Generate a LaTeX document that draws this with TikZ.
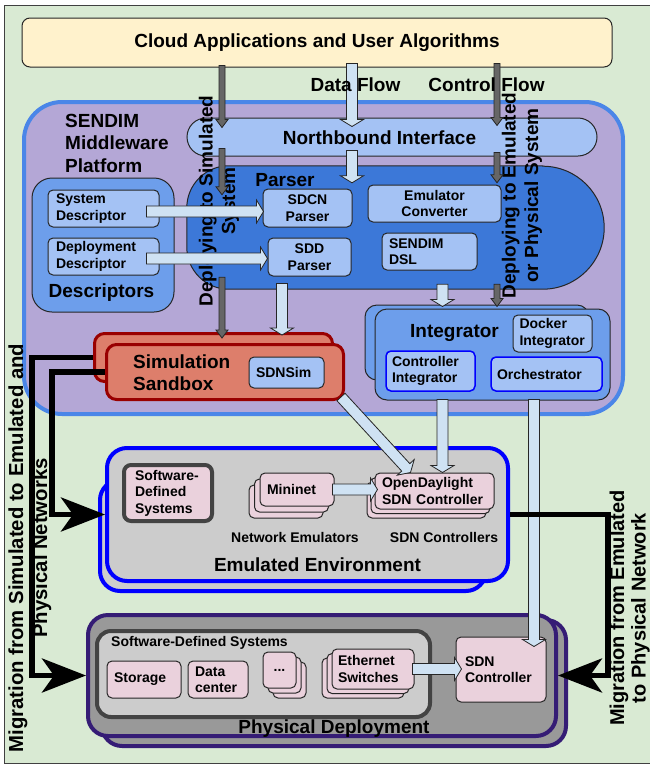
\documentclass[tikz,border=0pt]{standalone}
\usepackage{fontspec}
\setmainfont{Liberation Sans}
\usetikzlibrary{positioning, calc, arrows.meta, shadows}

\definecolor{bggreen}{HTML}{D9EAD3}
\definecolor{cloudyellow}{HTML}{FFF2CC}
\definecolor{platpurple}{HTML}{B4A7D6}
\definecolor{platblue}{HTML}{4A86E8}
\definecolor{lightblue}{HTML}{A4C2F4}
\definecolor{midblue}{HTML}{6D9EEB}
\definecolor{parserblue}{HTML}{3C78D8}
\definecolor{sandred}{HTML}{DD7E6B}
\definecolor{sandborder}{HTML}{990000}
\definecolor{emugray}{HTML}{CCCCCC}
\definecolor{physgray}{HTML}{999999}
\definecolor{physborder}{HTML}{351C75}
\definecolor{sdsborder}{HTML}{434343}
\definecolor{boxpink}{HTML}{EAD1DC}
\definecolor{arrlight}{HTML}{CFE2F3}
\definecolor{arrdark}{HTML}{666666}

\newcommand{\bigf}{\fontsize{19}{22.5}\selectfont\bfseries}
\newcommand{\smallf}{\fontsize{14}{16.5}\selectfont\bfseries}
\newcommand{\migf}{\fontsize{20.3}{24}\selectfont\bfseries}
\newcommand{\migrf}{\fontsize{20}{21.5}\selectfont\bfseries}

% block arrow from #2 to #3
\def\aw{5.5pt}\def\aW{11.5pt}\def\ah{7pt}
\newcommand{\fatarrow}[3][]{%
  \filldraw[#1] let \p1=(#2), \p2=(#3),
    \n1={veclen(\x2-\x1,\y2-\y1)}, \n2={(\x2-\x1)/\n1}, \n3={(\y2-\y1)/\n1} in
    ({\x1-\aw*(\n3)},{\y1+\aw*(\n2)}) --
    ({\x2-\ah*(\n2)-\aw*(\n3)},{\y2-\ah*(\n3)+\aw*(\n2)}) --
    ({\x2-\ah*(\n2)-\aW*(\n3)},{\y2-\ah*(\n3)+\aW*(\n2)}) --
    (\p2) --
    ({\x2-\ah*(\n2)+\aW*(\n3)},{\y2-\ah*(\n3)-\aW*(\n2)}) --
    ({\x2-\ah*(\n2)+\aw*(\n3)},{\y2-\ah*(\n3)-\aw*(\n2)}) --
    ({\x1+\aw*(\n3)},{\y1-\aw*(\n2)}) -- cycle;}

\begin{document}
\begin{tikzpicture}[x=1pt, y=-1pt,
  box/.style={draw=black!85, line width=1pt, rounded corners=5pt, inner sep=0pt},
  lbox/.style={box, fill=lightblue, font=\smallf, align=left, inner xsep=7pt},
  pbox/.style={box, fill=boxpink, font=\smallf, align=left, inner xsep=7pt},
  sandbox/.style={draw=sandborder, line width=3pt, fill=sandred, rounded corners=10pt, inner sep=0pt},
  integbox/.style={box, fill=midblue, rounded corners=12pt},
  emubox/.style={draw=blue, line width=4pt, fill=emugray, rounded corners=20pt, inner sep=0pt},
  physbox/.style={draw=physborder, line width=4pt, fill=physgray, rounded corners=20pt, inner sep=0pt},
  stack/.style 2 args={copy shadow={shadow xshift=#1, shadow yshift=#2, fill=boxpink, draw=black!85, line width=1pt}},
  lightarr/.style={fill=arrlight, draw=black!85, line width=0.8pt, /utils/exec={\def\aw{5.5pt}\def\aW{11.5pt}\def\ah{7pt}}},
  darkarr/.style={fill=arrdark, draw=black!85, line width=0.8pt, /utils/exec={\def\aw{3pt}\def\aW{6pt}\def\ah{8pt}}},
  migarr/.style={line width=5.5pt, -{Stealth[length=44pt, width=34pt, inset=12pt]}}
]
  \useasboundingbox (0,0) rectangle (650,766);
  \draw[fill=bggreen, draw=black!75, line width=1pt] (4.5,5.5) rectangle (662,763);

  % columns of the flows
  \coordinate (csim) at (222,0);
  \coordinate (cdat) at (352,0);
  \coordinate (cctl) at (497,0);
  \coordinate (csdd) at (282,0);
  \coordinate (cint) at (442.5,0);
  \coordinate (corc) at (534,0);

  % applications
  \node[box, fill=cloudyellow, rounded corners=8pt, minimum width=590pt, minimum height=49pt, font=\bigf] (cloud) at (317,42.5) {Cloud Applications and User Algorithms};

  % middleware platform
  \node[draw=platblue, line width=4pt, fill=platpurple, rounded corners=38pt, minimum width=599pt, minimum height=312pt, inner sep=0pt] (plat) at (323.5,258) {};
  \node[font=\bigf, align=left, anchor=west, inner sep=0pt] (platlbl) at (65,143) {SENDIM\\Middleware\\Platform};

  \node[box, fill=lightblue, rounded corners=19pt, minimum width=410pt, minimum height=38pt] (nbi) at (392,137) {};
  \node[font=\bigf] (nbilbl) at (379.5,138) {Northbound Interface};

  % parser
  \node[minimum width=417pt, minimum height=123pt, inner sep=0pt] (parser) at (395.5,227.5) {};
  \draw[line width=1pt, draw=black!85, fill=parserblue] ($(parser.north east)+(-61.5,0)$) -- ($(parser.north west)+(42,0)$)
    arc[start angle=-90, end angle=-180, radius=42] -- ($(parser.south west)+(0,-42)$)
    arc[start angle=180, end angle=90, radius=42] -- ($(parser.south east)+(-61.5,0)$)
    arc[start angle=90, end angle=-90, radius=61.5] -- cycle;
  \node[font=\bigf] (parserlbl) at (285,180) {Parser};
  \node[lbox, align=center, text width=75pt, minimum height=38pt] (sdcn) at (307.5,208) {SDCN\\Parser};
  \node[lbox, align=center, text width=69pt, minimum height=38pt] (sdd) at (309.5,257) {SDD\\Parser};
  \node[lbox, align=center, text width=119pt, minimum height=37pt] (emuconv) at (434.5,203.5) {Emulator\\Converter};
  \node[lbox, text width=81pt, minimum height=37pt] (dsl) at (429.5,251.5) {SENDIM\\DSL};

  % descriptors
  \node[box, fill=midblue, rounded corners=20pt, minimum width=142pt, minimum height=134pt] (desc) at (103,245) {};
  \node[lbox, text width=95pt, minimum height=37pt, inner xsep=8pt] (sysdesc) at (103.5,208.5) {System\\Descriptor};
  \node[lbox, text width=95pt, minimum height=37pt, inner xsep=8pt] (depdesc) at (103.5,256.5) {Deployment\\Descriptor};
  \node[font=\bigf] (desclbl) at (101.5,293) {Descriptors};

  % simulation sandbox
  \node[sandbox, minimum width=238pt, minimum height=48pt] (sandback) at (213.5,357.5) {};
  \node[sandbox, minimum width=237pt, minimum height=55pt] (sand) at (225,372) {};
  \node[font=\bigf, align=left, anchor=west, inner sep=0pt] (sandlbl) at (133,372.5) {Simulation\\Sandbox};
  \node[lbox, text width=61pt, minimum height=31pt] (sdnsim) at (286.5,372.5) {SDNSim};

  % integrator
  \node[integbox, minimum width=224pt, minimum height=75pt] (integback) at (477,342.5) {};
  \node[integbox, minimum width=235pt, minimum height=91pt] (integ) at (492.5,354.5) {};
  \node[font=\bigf] (integlbl) at (454.5,333) {Integrator};
  \node[lbox, text width=66pt, minimum height=37pt, inner xsep=6.5pt] (docker) at (552.5,333.5) {Docker\\Integrator};
  \node[lbox, draw=blue, line width=1.5pt, text width=77pt, minimum height=40pt, inner xsep=6pt] (ctrlint) at (430.5,371) {Controller\\Integrator};
  \node[lbox, draw=blue, line width=1.5pt, text width=99pt, minimum height=34pt, inner xsep=6pt] (orch) at (546.5,374) {Orchestrator};

  % emulated environment
  \node[emubox, minimum width=386pt, minimum height=111pt] (emuback) at (293,535.5) {};
  \node[emubox, minimum width=401pt, minimum height=133pt] (emu) at (307.5,514.5) {};
  \node[font=\bigf] (emulbl) at (317.5,565) {Emulated Environment};
  \node[pbox, draw=sdsborder, line width=4pt, rounded corners=7pt, text width=66pt, minimum height=56pt, inner xsep=11pt] (sdsemu) at (168,493) {Software-\\Defined\\Systems};
  \node[pbox, text width=60pt, minimum height=33pt, stack={-11pt}{-12pt}, stack={-5.5pt}{-6pt}] (mininet) at (297,489.5) {Mininet};
  \node[pbox, text width=105pt, minimum height=36pt, stack={-8pt}{-9pt}, stack={-4pt}{-4.5pt}] (odl) at (434.5,491) {OpenDaylight\\SDN Controller};
  \node[font=\smallf] (netemulbl) at (295,537) {Network Emulators};
  \node[font=\smallf] (sdnctrllbl) at (444,537) {SDN Controllers};

  % physical deployment
  \node[physbox, minimum width=464pt, minimum height=126pt] (physback) at (334,683) {};
  \node[physbox, minimum width=468pt, minimum height=121pt] (phys) at (322,675.5) {};
  \node[box, draw=sdsborder, line width=4pt, fill=emugray, rounded corners=14pt, minimum width=333pt, minimum height=86pt] (sdsphys) at (263.5,674) {};
  \node[font=\bigf] (physlbl) at (334,728.5) {Physical Deployment};
  \node[font=\smallf, anchor=west, inner sep=0pt] (sdsphyslbl) at (111,643) {Software-Defined Systems};
  \node[pbox, text width=60pt, minimum height=37pt] (storage) at (144,679.5) {Storage};
  \node[pbox, text width=46pt, minimum height=37pt] (dc) at (218,679.5) {Data\\center};
  \node[pbox, align=center, text width=19pt, minimum height=36pt, stack={10pt}{-10pt}, stack={5pt}{-5pt}] (dots) at (279.5,670) {...};
  \node[pbox, text width=70pt, minimum height=40pt, inner xsep=6pt, stack={-10pt}{-9pt}, stack={-5pt}{-4.5pt}] (eth) at (373,669) {Ethernet\\Switches};
  \node[pbox, text width=72pt, minimum height=65pt, inner xsep=9pt] (sdnc) at (501,669.5) {SDN\\Controller};

  % deploying labels
  \node[font=\bigf, rotate=90, align=center] (deploysim) at (219,201) {Deploying to Simulated\\System};
  \node[font=\bigf, rotate=90, align=center] (deployemu) at (522,195.5) {Deploying to Emulated\\or Physical System};

  % data and control flow
  \fatarrow[darkarr]{$(cloud.south -| csim)+(0,-2)$}{$(nbi.north -| csim)+(0,10)$}
  \fatarrow[lightarr]{$(cloud.south -| cdat)+(0,-4)$}{$(nbi.north -| cdat)+(0,9)$}
  \fatarrow[darkarr]{$(cloud.south -| cctl)+(0,-4)$}{$(nbi.north -| cctl)+(0,8)$}
  \fatarrow[darkarr]{$(nbi.south -| csim)+(0,-8)$}{$(parser.north -| csim)+(0,29)$}
  \fatarrow[lightarr]{$(nbi.south -| cdat)+(0,-6)$}{$(parser.north -| cdat)+(0,17)$}
  \fatarrow[darkarr]{$(nbi.south -| cctl)+(0,-4)$}{$(parser.north -| cctl)+(0,17)$}
  \fatarrow[darkarr]{$(parser.south -| csim)+(0,-12)$}{$(sandback.north -| csim)+(0,6)$}
  \fatarrow[lightarr]{$(sdd.south -| csdd)+(0,7)$}{$(sandback.north -| csdd)+(0,3)$}
  \fatarrow[lightarr]{$(parser.south -| cint)+(0,-5)$}{$(integback.north -| cint)+(0,2)$}
  \fatarrow[darkarr]{$(parser.south -| cctl)+(0,-5)$}{$(integback.north -| cctl)+(0,2)$}
  \fatarrow[lightarr]{$(integ.south -| cint)+(0,-1)$}{$(odl.north -| cint)$}
  \fatarrow[lightarr]{$(sand.south east)+(-4,-4)$}{$(odl.north west)+(36,0)$}
  \fatarrow[lightarr]{$(integ.south -| corc)+(0,-1)$}{$(sdnc.north -| corc)+(0,10)$}
  \fatarrow[lightarr]{$(mininet.east)+(-2,0)$}{$(mininet.east -| odl.west)+(3,0)$}
  \fatarrow[lightarr]{$(eth.east)+(-2,0)$}{$(eth.east -| sdnc.west)+(6,0)$}
  \fatarrow[lightarr]{$(sysdesc.east)+(-13,3)$}{$(sysdesc.east -| sdcn.west)+(1,3)$}
  \fatarrow[lightarr]{$(depdesc.east)+(-13,2)$}{$(depdesc.east -| sdd.west)+(0,2)$}

  \node[font=\bigf] (dataflow) at (355.5,85) {Data Flow};
  \node[font=\bigf] (ctlflow) at (486.5,85) {Control Flow};

  % migration
  \draw[migarr] (sandback.west) -- ++(-61,0) |- (phys.west);
  \draw[migarr] (sand.west) -- ++(-53,0) |- (emu.west);
  \draw[migarr] (emu.east) -- ++(98,0) |- (phys.east);
  \node[font=\migf, rotate=90, align=center] (migsim) at (30,548) {Migration from Simulated to Emulated and\\Physical Networks};
  \node[font=\migrf, rotate=90, align=center, inner sep=0pt] (migemu) at (629.8,608) {Migration from Emulated\\to Physical Network};
\end{tikzpicture}
\end{document}
